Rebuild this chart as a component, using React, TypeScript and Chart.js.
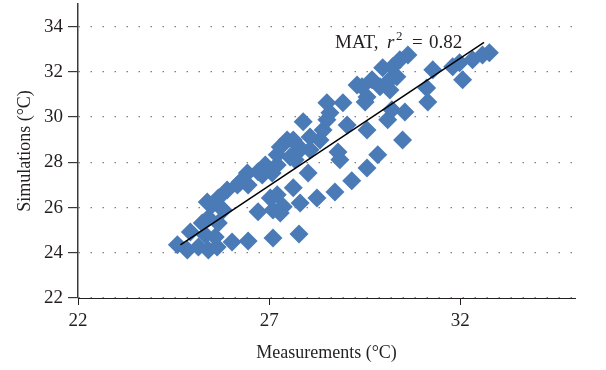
import { useEffect, useRef } from 'react';
import { Chart, registerables } from 'chart.js';

Chart.register(...registerables);

// Measured (x) vs simulated (y) mean air temperature, °C
const measX = [
  24.60, 24.86, 25.15, 25.41, 25.64, 24.94, 25.33, 25.59, 26.03, 26.45, 27.10, 27.78,
  25.25, 25.41, 25.67, 25.51, 25.80, 25.67, 25.38, 25.90, 26.17, 26.24, 26.45, 26.43,
  26.71, 26.82, 26.90, 27.08, 27.21, 27.21, 27.29, 27.47, 27.55, 27.68, 27.73, 27.63,
  27.73, 27.89, 28.07, 28.07, 28.02, 28.33, 28.41, 28.51, 28.51, 28.59, 28.93, 29.04,
  29.30, 29.43, 29.56, 29.51, 29.69, 29.90, 30.16, 29.97, 30.23, 30.34, 30.42, 30.63,
  30.16, 26.71, 27.03, 27.21, 27.10, 27.29, 27.37, 27.63, 27.81, 28.25, 28.72, 29.16,
  29.56, 28.85, 28.80, 29.56, 29.84, 30.49, 30.10, 30.21, 30.55, 31.15, 31.12, 31.28,
  31.80, 31.98, 32.06, 32.32, 32.58, 32.76,
];
const simY = [
  24.35, 24.12, 24.26, 24.12, 24.26, 24.92, 24.79, 24.70, 24.48, 24.52, 24.65, 24.83,
  25.32, 25.54, 25.32, 26.12, 25.89, 26.42, 26.25, 26.78, 27.00, 27.13, 27.00, 27.53,
  27.58, 27.44, 27.88, 27.53, 27.88, 28.33, 28.68, 28.99, 28.24, 28.11, 28.77, 28.99,
  28.42, 29.79, 29.12, 28.55, 27.53, 28.99, 29.43, 30.63, 29.88, 30.19, 30.63, 29.65,
  31.42, 31.34, 30.89, 30.67, 31.65, 31.34, 31.65, 32.18, 32.22, 31.78, 32.53, 32.75,
  31.20, 25.81, 26.42, 26.56, 25.89, 25.76, 26.03, 26.87, 26.20, 26.42, 26.69, 27.18,
  27.75, 28.11, 28.46, 29.43, 28.33, 28.99, 29.88, 30.32, 30.23, 30.67, 31.29, 32.09,
  32.22, 32.40, 31.65, 32.53, 32.75, 32.84,
];

// Fitted regression line end points
const fitX = [24.68, 32.62];
const fitY = [24.35, 33.3];

const xTicks = [22, 27, 32];
const yTicks = [22, 24, 26, 28, 30, 32, 34];

const annLabel = 'MAT,';
const annVar = 'r';
const annSup = '2';
const annEq = '=';
const annValue = '0.82';
const annX = 28.67;
const annY = 33.06;

const FONT = "'Liberation Serif', 'Times New Roman', serif";
const TEXT = '#231f20';
const BLUE = '#4a7bb7';

const annotationPlugin = {
  id: 'annot',
  afterDatasetsDraw(chart: any) {
    const { ctx, scales } = chart;
    const px = scales.x.getPixelForValue(annX);
    const py = scales.y.getPixelForValue(annY);
    ctx.save();
    ctx.fillStyle = TEXT;
    ctx.textBaseline = 'alphabetic';
    ctx.textAlign = 'left';
    ctx.font = `19px ${FONT}`;
    ctx.fillText(annLabel, px + 2, py);
    ctx.font = `italic 19px ${FONT}`;
    ctx.fillText(annVar, px + 54, py);
    ctx.font = `13px ${FONT}`;
    ctx.fillText(annSup, px + 63, py - 8);
    ctx.font = `19px ${FONT}`;
    ctx.fillText(annEq, px + 79, py);
    ctx.fillText(annValue, px + 96, py);
    ctx.restore();
  },
};

export default function App() {
  const ref = useRef<HTMLCanvasElement>(null);

  useEffect(() => {
    if (!ref.current) return;
    Chart.defaults.font.family = FONT;
    Chart.defaults.color = TEXT;
    const chart = new Chart(ref.current, {
      type: 'scatter',
      data: {
        datasets: [
          {
            type: 'line',
            data: fitX.map((x, i) => ({ x, y: fitY[i] })),
            borderColor: '#000000',
            borderWidth: 1.5,
            pointRadius: 0,
            showLine: true,
            fill: false,
            order: 0,
          } as any,
          {
            type: 'scatter',
            data: measX.map((x, i) => ({ x, y: simY[i] })),
            pointStyle: 'rectRot',
            pointRadius: 9.5,
            pointBackgroundColor: BLUE,
            pointBorderWidth: 0,
            backgroundColor: BLUE,
            borderColor: BLUE,
            order: 1,
          },
        ],
      },
      options: {
        animation: false,
        responsive: false,
        maintainAspectRatio: false,
        layout: { autoPadding: false, padding: { left: 0, right: 31, top: 4, bottom: 0 } },
        plugins: { legend: { display: false }, tooltip: { enabled: false } },
        scales: {
          x: {
            type: 'linear',
            min: 22,
            max: 35,
            afterBuildTicks: (s: any) => {
              s.ticks = xTicks.map((v) => ({ value: v }));
            },
            afterFit: (s: any) => {
              s.height = 72;
              s.paddingLeft = 0;
              s.paddingRight = 0;
            },
            border: { display: true, color: TEXT, width: 1 },
            grid: {
              drawOnChartArea: false,
              drawTicks: true,
              tickLength: 7,
              tickColor: TEXT,
            },
            ticks: {
              color: TEXT,
              font: { size: 19, family: FONT },
              padding: 5,
              maxRotation: 0,
              autoSkip: false,
            },
            title: {
              display: true,
              text: 'Measurements (°C)',
              color: TEXT,
              font: { size: 18, family: FONT },
              padding: { top: 0, bottom: 6 },
            },
          },
          y: {
            type: 'linear',
            min: 22,
            max: 35,
            afterBuildTicks: (s: any) => {
              s.ticks = yTicks.map((v) => ({ value: v }));
            },
            afterFit: (s: any) => {
              s.width = 78;
              s.paddingTop = 0;
              s.paddingBottom = 0;
            },
            border: { display: true, color: '#3a3a3a', width: 1.5, dash: [1.5, 10.5] },
            grid: {
              drawOnChartArea: true,
              drawTicks: true,
              tickLength: 10,
              color: '#808080',
              lineWidth: 1.2,
              tickBorderDash: [],
              tickColor: '#3a3a3a',
            },
            ticks: {
              color: TEXT,
              font: { size: 19, family: FONT },
              padding: 5,
              autoSkip: false,
            },
            title: {
              display: true,
              text: 'Simulations (°C)',
              color: TEXT,
              font: { size: 18, family: FONT },
              padding: { top: 14, bottom: 0 },
            },
          },
        },
      },
      plugins: [annotationPlugin],
    });
    return () => chart.destroy();
  }, []);

  return (
    <div style={{ position: 'absolute', left: 0, top: 0, width: 606, height: 370, background: '#ffffff' }}>
      <canvas ref={ref} width={606} height={370} style={{ width: 606, height: 370 }} />
    </div>
  );
}
